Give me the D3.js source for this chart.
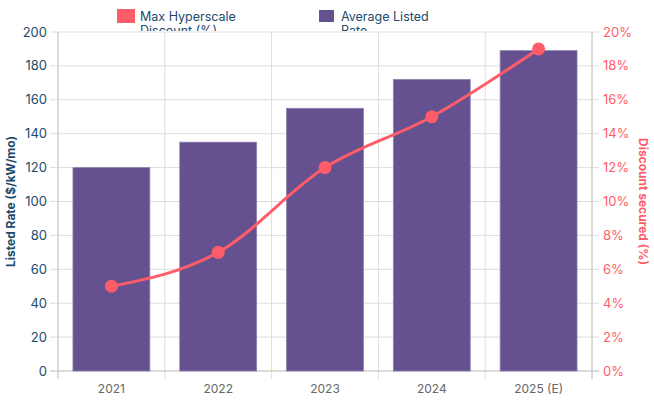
<!DOCTYPE html>
<html><head><meta charset="utf-8">
<script src="https://cdn.jsdelivr.net/npm/d3@7"></script>
<style>body{margin:0;background:#fff;font-family:Inter,"Noto Sans",sans-serif;}</style>
</head><body>
<svg id="c" width="654" height="400"></svg>
<script>
const categories = ["2021","2022","2023","2024","2025 (E)"];
const listedRate = [120,135,155,172,189];
const discountPct = [5,7,12,15,19];
const leftTicks = [0,20,40,60,80,100,120,140,160,180,200];
const rightTicks = [0,2,4,6,8,10,12,14,16,18,20];

const svg = d3.select("#c");
const m = {l:58, r:592, t:32, b:371};
const barColor = "#655190", lineColor = "#ff5c6a", navy = "#1c4a6b", grid = "#dddddd";

const x = d3.scaleBand().domain(categories).range([m.l, m.r]).paddingInner(0).paddingOuter(0);
const yL = d3.scaleLinear().domain([0,200]).range([m.b, m.t]);
const yR = d3.scaleLinear().domain([0,20]).range([m.b, m.t]);

// horizontal grid
svg.append("g").selectAll("line").data(leftTicks).join("line")
  .attr("x1", m.l-8).attr("x2", m.r+7)
  .attr("y1", d=>yL(d)).attr("y2", d=>yL(d))
  .attr("stroke", grid).attr("stroke-width",1);
// vertical grid
const vx = categories.map(c=>x(c)).concat([m.r]);
svg.append("g").selectAll("line").data(vx).join("line")
  .attr("x1", d=>d).attr("x2", d=>d).attr("y1", m.t).attr("y2", m.b+8)
  .attr("stroke", grid);
// axis lines
svg.append("line").attr("x1",m.l).attr("x2",m.l).attr("y1",m.t).attr("y2",m.b+8).attr("stroke","#c8c8c8");
svg.append("line").attr("x1",m.r).attr("x2",m.r).attr("y1",m.t).attr("y2",m.b+8).attr("stroke","#c8c8c8");
svg.append("line").attr("x1",m.l-8).attr("x2",m.r+7).attr("y1",m.b).attr("y2",m.b).attr("stroke","#c8c8c8");

// bars
const bw = x.bandwidth()*0.72;
svg.append("g").selectAll("rect").data(listedRate).join("rect")
  .attr("x",(d,i)=>x(categories[i])+(x.bandwidth()-bw)/2)
  .attr("width",bw)
  .attr("y",d=>yL(d)).attr("height",d=>m.b-yL(d))
  .attr("fill",barColor).attr("stroke","#8f80b0").attr("stroke-width",0.8);

// line
const pts = discountPct.map((d,i)=>[x(categories[i])+x.bandwidth()/2, yR(d)]);
svg.append("path").attr("d", d3.line().curve(d3.curveMonotoneX)(pts))
  .attr("fill","none").attr("stroke",lineColor).attr("stroke-width",3);
svg.append("g").selectAll("circle").data(pts).join("circle")
  .attr("cx",d=>d[0]).attr("cy",d=>d[1]).attr("r",6.5).attr("fill",lineColor);

// left ticks
svg.append("g").selectAll("text").data(leftTicks).join("text")
  .attr("x", m.l-11).attr("y", d=>yL(d)).attr("dy","0.35em")
  .attr("text-anchor","end").attr("font-size",13).attr("fill",navy).text(d=>d);
// right ticks
svg.append("g").selectAll("text").data(rightTicks).join("text")
  .attr("x", m.r+11).attr("y", d=>yR(d)).attr("dy","0.35em")
  .attr("text-anchor","start").attr("font-size",13).attr("fill",lineColor).text(d=>d+"%");
// x labels
svg.append("g").selectAll("text").data(categories).join("text")
  .attr("x", d=>x(d)+x.bandwidth()/2).attr("y", 389).attr("dy","0.35em")
  .attr("text-anchor","middle").attr("font-size",12).attr("fill","#666").text(d=>d);

// axis titles
svg.append("text").attr("transform",`translate(15,${(m.t+m.b)/2}) rotate(-90)`)
  .attr("text-anchor","middle").attr("font-size",12).attr("font-weight","bold").attr("fill",navy)
  .text("Listed Rate ($/kW/mo)");
svg.append("text").attr("transform",`translate(639,${(m.t+m.b)/2}) rotate(90)`)
  .attr("text-anchor","middle").attr("font-size",12).attr("font-weight","bold").attr("fill",lineColor)
  .text("Discount secured (%)");

// legend (clipped)
svg.append("clipPath").attr("id","lc").append("rect").attr("x",0).attr("y",0).attr("width",654).attr("height",31);
const lg = svg.append("g").attr("clip-path","url(#lc)");
const legend = [
  {sx:117, color:lineColor, lines:["Max Hyperscale","Discount (%)"]},
  {sx:319, color:barColor, lines:["Average Listed","Rate"]}
];
legend.forEach(l=>{
  lg.append("rect").attr("x",l.sx).attr("y",l.color===lineColor?9:10).attr("width",l.color===lineColor?18:15).attr("height",l.color===lineColor?14:12).attr("fill",l.color);
  l.lines.forEach((t,i)=>{
    lg.append("text").attr("x",l.sx+(l.color===lineColor?23:22)).attr("y",21+i*13.5)
      .attr("font-size",12.5).attr("fill",navy).text(t);
  });
});
</script>
</body></html>
